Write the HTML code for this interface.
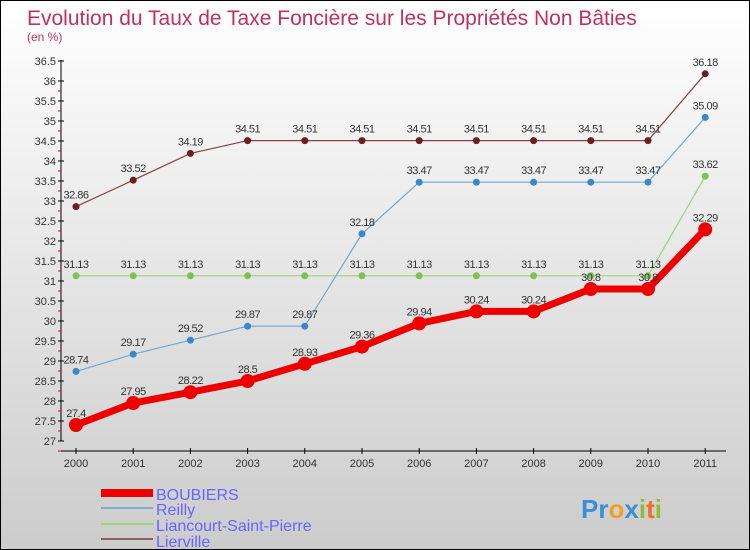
<!DOCTYPE html>
<html><head><meta charset="utf-8"><style>
body{margin:0}
#c{width:748px;height:548px;border:1px solid #000;position:relative;overflow:hidden;background:linear-gradient(#fff,#ccc);font-family:"Liberation Sans",sans-serif}
</style></head><body>
<div id="c">
<svg id="s" width="748" height="548" style="position:absolute;left:0;top:0">
<text x="26" y="24" font-size="21" fill="#c03060">Evolution du Taux de Taxe Foncière sur les Propriétés Non Bâties</text>
<text x="26" y="40" font-size="12" fill="#c03060">(en %)</text>
<g id="axes"></g><g id="series"></g>
<g>
<rect x="100" y="488" width="52" height="8" fill="#e00"/>
<text x="155" y="499" font-size="16" fill="#66f">BOUBIERS</text>
<rect x="100" y="506" width="52" height="2" fill="#7aaed0"/>
<text x="155" y="514" font-size="16" fill="#66f">Reilly</text>
<rect x="100" y="522" width="52" height="2" fill="#9ed37a"/>
<text x="155" y="530" font-size="16" fill="#66f">Liancourt-Saint-Pierre</text>
<rect x="100" y="537" width="52" height="2" fill="#8a6060"/>
<text x="155" y="546" font-size="16" fill="#66f">Lierville</text>
</g>
<text x="580" y="517" font-size="26" font-weight="bold"><tspan fill="#3a8fd8">Pr</tspan><tspan fill="#f0a020">o</tspan><tspan fill="#3a8fd8">x</tspan><tspan fill="#90c030">i</tspan><tspan fill="#f07020">t</tspan><tspan fill="#90c030">i</tspan></text>
</svg></div>
<script>
const years=[2000,2001,2002,2003,2004,2005,2006,2007,2008,2009,2010,2011];
const boubiers=[27.4,27.95,28.22,28.5,28.93,29.36,29.94,30.24,30.24,30.8,30.8,32.29];
const reilly=[28.74,29.17,29.52,29.87,29.87,32.18,33.47,33.47,33.47,33.47,33.47,35.09];
const liancourt=[31.13,31.13,31.13,31.13,31.13,31.13,31.13,31.13,31.13,31.13,31.13,33.62];
const lierville=[32.86,33.52,34.19,34.51,34.51,34.51,34.51,34.51,34.51,34.51,34.51,36.18];
const yTicks=[27,27.5,28,28.5,29,29.5,30,30.5,31,31.5,32,32.5,33,33.5,34,34.5,35,35.5,36,36.5];
const NS="http://www.w3.org/2000/svg";
const xS=i=>75+i*57.2;
const yS=v=>440-(v-27)*40;
function mk(t,a,p){const e=document.createElementNS(NS,t);for(const k in a)e.setAttribute(k,a[k]);p.appendChild(e);return e;}
const ax=document.getElementById('axes'),sg=document.getElementById('series');
let l=mk('line',{x1:60,y1:59,x2:60,y2:440,stroke:'#000'},ax);


yTicks.forEach((v,i)=>{const y=yS(v);mk('line',{x1:57,y1:y,x2:63,y2:y,stroke:'#000'},ax);
mk('line',{x1:57,y1:y+10,x2:60,y2:y+10,stroke:(i<yTicks.length-1)?'#e00':'none'},ax);
const t=mk('text',{x:55,y:y+4,'font-size':11,'text-anchor':'end',fill:'#333'},ax);t.textContent=v;

});
l=mk('line',{x1:60,y1:450,x2:725,y2:450,stroke:'#000'},ax);


years.forEach((yr,i)=>{const x=xS(i);mk('line',{x1:x,y1:447,x2:x,y2:453,stroke:'#000'},ax);
const t=mk('text',{x:x,y:466,'font-size':11,'text-anchor':'middle',fill:'#333'},ax);t.textContent=yr;

});
function series(d,name,col,dot,w,r){const g=mk('g',{},sg);


mk('polyline',{points:d.map((v,i)=>xS(i)+','+yS(v)).join(' '),fill:'none',stroke:col,'stroke-width':w},g);
d.forEach((v,i)=>{const c=mk('circle',{cx:xS(i),cy:yS(v),r:r,fill:dot},g);


const t=mk('text',{x:xS(i),y:yS(v)-8,'font-size':11,'text-anchor':'middle',fill:'#333','letter-spacing':'-0.5'},g);t.textContent=v;

});}
series(lierville,'lierville','#8a4040','#6a2020',1.2,3.5);
series(liancourt,'liancourt','#9ed37a','#80c050',1.2,3.5);
series(reilly,'reilly','#70a8d0','#3a88c8',1.2,3.5);
series(boubiers,'boubiers','#e00','#e00',7,7);
</script></body></html>
